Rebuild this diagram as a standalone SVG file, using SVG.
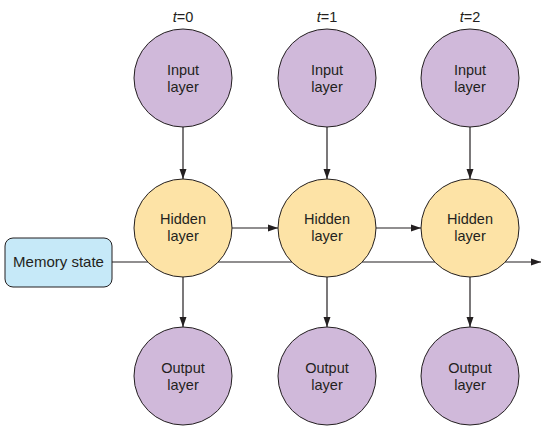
<svg xmlns="http://www.w3.org/2000/svg" width="552" height="437" viewBox="0 0 552 437">
<defs>
<marker id="ah" viewBox="0 0 10 10" refX="10" refY="5" markerWidth="10" markerHeight="10" markerUnits="userSpaceOnUse" orient="auto"><path d="M0,1.5 L10,5 L0,8.5 Z" fill="#231f20"/></marker>
<style>
.in{fill:#d0b9da;stroke:#231f20;stroke-width:1}
.hid{fill:#fde3a6;stroke:#231f20;stroke-width:1}
.ln{stroke:#231f20;stroke-width:1.2;fill:none}
.t{font-family:"Liberation Sans",Arial,sans-serif;font-size:14.5px;fill:#231f20;text-anchor:middle}
.lbl{font-family:"Liberation Sans",Arial,sans-serif;font-size:14.5px;fill:#231f20;text-anchor:middle}
</style>
</defs>
<rect width="552" height="437" fill="#ffffff"/>
<g id="connectors">
<line class="ln" x1="112" y1="262" x2="541" y2="262" marker-end="url(#ah)"/>
<line class="ln" x1="183" y1="127" x2="183" y2="179" marker-end="url(#ah)"/>
<line class="ln" x1="327" y1="127" x2="327" y2="179" marker-end="url(#ah)"/>
<line class="ln" x1="470" y1="127" x2="470" y2="179" marker-end="url(#ah)"/>
<line class="ln" x1="232" y1="228" x2="278" y2="228" marker-end="url(#ah)"/>
<line class="ln" x1="376" y1="228" x2="421" y2="228" marker-end="url(#ah)"/>
<line class="ln" x1="183" y1="277" x2="183" y2="327" marker-end="url(#ah)"/>
<line class="ln" x1="327" y1="277" x2="327" y2="327" marker-end="url(#ah)"/>
<line class="ln" x1="470" y1="277" x2="470" y2="327" marker-end="url(#ah)"/>
</g>
<g id="t0"><text class="lbl" x="183" y="22"><tspan font-style="italic">t</tspan>=0</text></g>
<g id="t1"><text class="lbl" x="327" y="22"><tspan font-style="italic">t</tspan>=1</text></g>
<g id="t2"><text class="lbl" x="470" y="22"><tspan font-style="italic">t</tspan>=2</text></g>
<g id="memory"><rect x="5" y="238" width="107" height="49" rx="8" fill="#c6e9f8" stroke="#231f20" stroke-width="1"/><text class="t" x="58.5" y="267" style="font-size:15px">Memory state</text></g>
<g id="input0"><circle class="in" cx="183" cy="78" r="49"/><text class="t" x="183" y="75">Input</text><text class="t" x="183" y="92">layer</text></g>
<g id="input1"><circle class="in" cx="327" cy="78" r="49"/><text class="t" x="327" y="75">Input</text><text class="t" x="327" y="92">layer</text></g>
<g id="input2"><circle class="in" cx="470" cy="78" r="49"/><text class="t" x="470" y="75">Input</text><text class="t" x="470" y="92">layer</text></g>
<g id="hidden0"><circle class="hid" cx="183" cy="228" r="49"/><text class="t" x="183" y="224">Hidden</text><text class="t" x="183" y="241">layer</text></g>
<g id="hidden1"><circle class="hid" cx="327" cy="228" r="49"/><text class="t" x="327" y="224">Hidden</text><text class="t" x="327" y="241">layer</text></g>
<g id="hidden2"><circle class="hid" cx="470" cy="228" r="49"/><text class="t" x="470" y="224">Hidden</text><text class="t" x="470" y="241">layer</text></g>
<g id="output0"><circle class="in" cx="183" cy="376" r="49"/><text class="t" x="183" y="373">Output</text><text class="t" x="183" y="390">layer</text></g>
<g id="output1"><circle class="in" cx="327" cy="376" r="49"/><text class="t" x="327" y="373">Output</text><text class="t" x="327" y="390">layer</text></g>
<g id="output2"><circle class="in" cx="470" cy="376" r="49"/><text class="t" x="470" y="373">Output</text><text class="t" x="470" y="390">layer</text></g>
</svg>
